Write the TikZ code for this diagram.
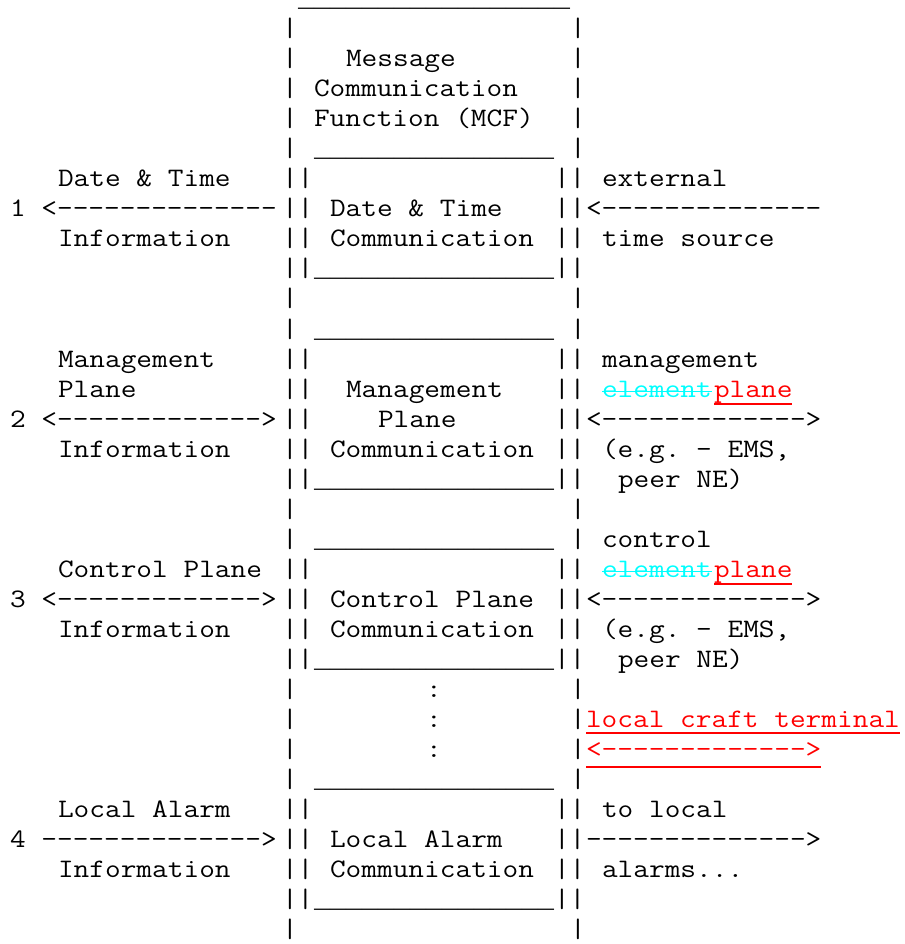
\documentclass[tikz,border=0pt]{standalone}
\usepackage{graphicx}
\usepackage{fontspec}
\newfontfamily\ulfont{Liberation Mono}
\usetikzlibrary{calc}
\ExplSyntaxOn
\cs_new:Npn \myrep #1#2 { \prg_replicate:nn {#1} {#2} }
\ExplSyntaxOff
\newcommand\dd{-\kern0pt}
\definecolor{insred}{RGB}{255,0,0}
\definecolor{delcyan}{RGB}{0,255,255}
\tikzset{
  tt/.style={anchor=base west, inner sep=0pt, outer sep=0pt,
    font=\fontsize{20pt}{24pt}\selectfont\ttfamily\frenchspacing},
  ulrow/.style={anchor=base west, inner sep=0pt, outer sep=0pt,
    text height=0pt, text depth=4pt,
    font=\fontsize{20pt}{24pt}\selectfont\ulfont},
  ins/.style={tt, text=insred},
  del/.style={tt, text=delcyan},
  insline/.style={draw=insred, line width=1.3pt},
  delline/.style={draw=delcyan, line width=1.1pt}
}
\newcommand\putxt[5][tt]{\node[#1] (#2) at ({10+16*#3},{7+30*#4}) {\scalebox{1.142857}[1]{#5}};}
\newcommand\putul[4]{\node[ulrow] (#1) at ({10+16*#2},{7+30*#3}) {\myrep{#4}{\_}};}
\begin{document}
\begin{tikzpicture}[x=0.75pt, y=-0.75pt]
\useasboundingbox (0,0) rectangle (904,944);
% outer frame (MCF)
\putul{top}{18}{0}{17}
\foreach \r in {1,2,3,4,5,10,11,17,18,23,24,25,26,31} {
  \putxt{bl\r}{17}{\r}{|}
  \putxt{br\r}{35}{\r}{|}
}
\foreach \r in {6,7,8,9,12,13,14,15,16,19,20,21,22,27,28,29,30} {
  \putxt{dl\r}{17}{\r}{||}
  \putxt{dr\r}{34}{\r}{||}
}
\foreach \r in {5,9,11,16,18,22,26,30} {
  \putul{us\r}{19}{\r}{15}
}
% MCF title
\putxt{mcf1}{21}{2}{Message}
\putxt{mcf2}{19}{3}{Communication}
\putxt{mcf3}{19}{4}{Function (MCF)}
% 1 Date & Time
\putxt{l6}{3}{6}{Date \& Time}
\putxt{e6}{37}{6}{external}
\putxt{a7}{0}{7}{1 <\myrep{14}{\dd}}
\putxt{c7}{20}{7}{Date \& Time}
\putxt{b7}{36}{7}{<\myrep{14}{\dd}}
\putxt{l8}{3}{8}{Information}
\putxt{c8}{20}{8}{Communication}
\putxt{e8}{37}{8}{time source}
% 2 Management Plane
\putxt{l12}{3}{12}{Management}
\putxt{e12}{37}{12}{management}
\putxt{l13}{3}{13}{Plane}
\putxt{c13}{21}{13}{Management}
\putxt[del]{x13}{37}{13}{element}
\putxt[ins]{p13}{44}{13}{plane}
\putxt{a14}{0}{14}{2 <\myrep{13}{\dd}>}
\putxt{c14}{23}{14}{Plane}
\putxt{b14}{36}{14}{<\myrep{13}{\dd}>}
\putxt{l15}{3}{15}{Information}
\putxt{c15}{20}{15}{Communication}
\putxt{e15}{37}{15}{(e.g. - EMS,}
\putxt{e16}{38}{16}{peer NE)}
% 3 Control Plane
\putxt{e18}{37}{18}{control}
\putxt{l19}{3}{19}{Control Plane}
\putxt[del]{x19}{37}{19}{element}
\putxt[ins]{p19}{44}{19}{plane}
\putxt{a20}{0}{20}{3 <\myrep{13}{\dd}>}
\putxt{c20}{20}{20}{Control Plane}
\putxt{b20}{36}{20}{<\myrep{13}{\dd}>}
\putxt{l21}{3}{21}{Information}
\putxt{c21}{20}{21}{Communication}
\putxt{e21}{37}{21}{(e.g. - EMS,}
\putxt{e22}{38}{22}{peer NE)}
% dots and local craft terminal
\foreach \r in {23,24,25} {\putxt{dot\r}{26}{\r}{:}}
\putxt[ins]{lct}{36}{24}{local craft terminal}
\putxt[ins]{lca}{36}{25}{<\myrep{13}{\dd}>}
% 4 Local Alarm
\putxt{l27}{3}{27}{Local Alarm}
\putxt{e27}{37}{27}{to local}
\putxt{a28}{0}{28}{4 \myrep{14}{\dd}>}
\putxt{c28}{20}{28}{Local Alarm}
\putxt{b28}{36}{28}{\myrep{14}{\dd}>}
\putxt{l29}{3}{29}{Information}
\putxt{c29}{20}{29}{Communication}
\putxt{e29}{37}{29}{alarms...}
% change marks
\path[delline] ($(x13.base west)+(0,-5.5)$) -- ($(x13.base east)+(0,-5.5)$);
\path[delline] ($(x19.base west)+(0,-5.5)$) -- ($(x19.base east)+(0,-5.5)$);
\path[insline] ($(p13.base west)+(0,7)$) -- ($(p13.base east)+(0,7)$);
\path[insline] ($(p19.base west)+(0,7)$) -- ($(p19.base east)+(0,7)$);
\path[insline] ($(lct.base west)+(0,6)$) -- ($(lct.base east)+(0,6)$);
\path[insline] ($(lca.base west)+(0,10)$) -- ($(lca.base east)+(0,10)$);
\end{tikzpicture}
\end{document}
